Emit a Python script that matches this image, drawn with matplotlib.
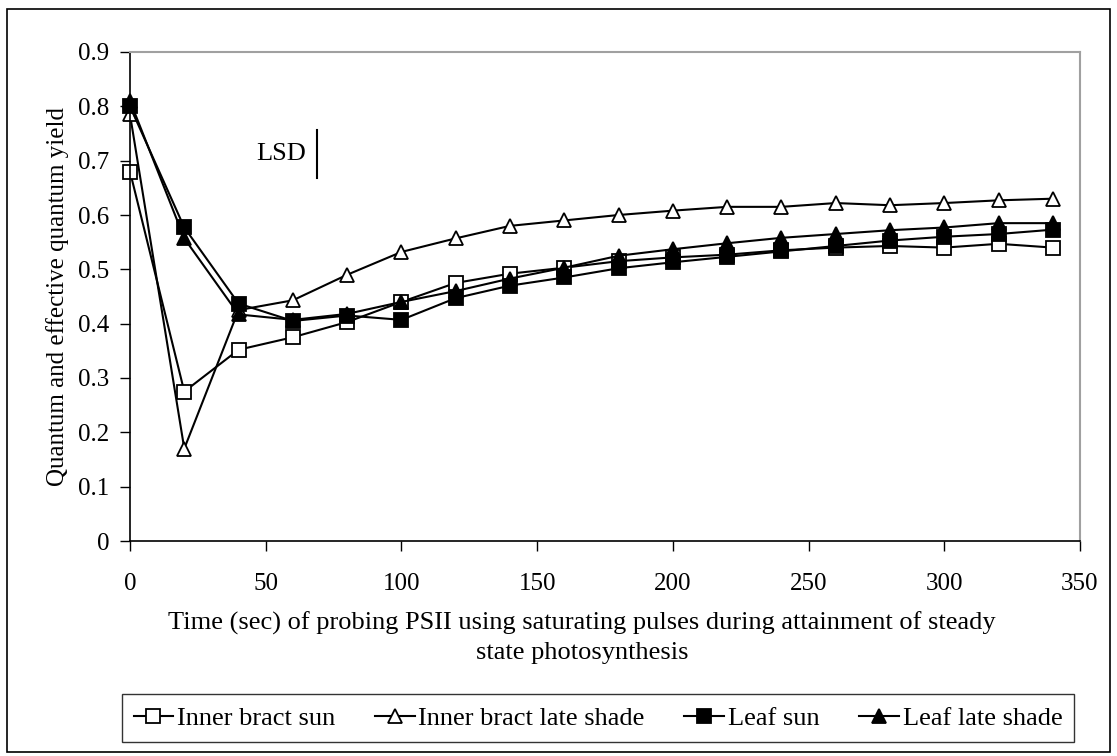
import matplotlib.pyplot as plt
from matplotlib.patches import Rectangle

plt.rcParams['font.family'] = ['Liberation Serif', 'DejaVu Serif']

time_s = [0, 20, 40, 60, 80, 100, 120, 140, 160, 180, 200, 220, 240, 260, 280, 300, 320, 340]

bract_sun = [0.680, 0.275, 0.352, 0.375, 0.403, 0.440, 0.475, 0.492, 0.503, 0.515,
             0.522, 0.527, 0.535, 0.540, 0.543, 0.540, 0.547, 0.540]
bract_late_shade = [0.785, 0.170, 0.425, 0.443, 0.490, 0.532, 0.557, 0.580, 0.590, 0.600,
                    0.608, 0.615, 0.615, 0.622, 0.618, 0.622, 0.627, 0.630]
leaf_sun = [0.800, 0.577, 0.437, 0.405, 0.415, 0.407, 0.447, 0.470, 0.485, 0.502,
            0.513, 0.523, 0.533, 0.543, 0.553, 0.560, 0.565, 0.573]
leaf_late_shade = [0.810, 0.557, 0.417, 0.407, 0.418, 0.440, 0.460, 0.483, 0.503, 0.525,
                   0.537, 0.548, 0.558, 0.565, 0.572, 0.577, 0.585, 0.585]

lsd_x = 69
lsd_y = (0.668, 0.756)

W, H = 1117, 756
fig = plt.figure(figsize=(W / 100, H / 100), dpi=100)
# plot area: left 130, right 1080, top 52, bottom 541 (pixels)
ax = fig.add_axes([130 / W, 1 - 541 / H, 950 / W, 489 / H])

series = [
    ("Inner bract sun", bract_sun, "s", "white"),
    ("Inner bract late shade", bract_late_shade, "^", "white"),
    ("Leaf sun", leaf_sun, "s", "black"),
    ("Leaf late shade", leaf_late_shade, "^", "black"),
]
for label, vals, mk, fc in series:
    ax.plot(time_s, vals, color="black", lw=1.5, marker=mk, markersize=10,
            markerfacecolor=fc, markeredgecolor="black", markeredgewidth=1.3,
            label=label, clip_on=False)

ax.plot([lsd_x, lsd_x], lsd_y, color="black", lw=1.5)
ax.text(lsd_x - 4, sum(lsd_y) / 2, "LSD", ha="right", va="center", fontsize=19)

ax.set_xlim(0, 350)
ax.set_ylim(0, 0.9)
ax.set_xticks(range(0, 351, 50))
ax.set_yticks([i / 10 for i in range(10)])
ax.set_yticklabels(["0"] + [f"{i / 10:.1f}" for i in range(1, 10)])
ax.tick_params(direction="out", length=7, width=1, labelsize=18)
ax.tick_params(axis="y", pad=8)
ax.tick_params(axis="x", pad=16)

for side in ("top", "right"):
    ax.spines[side].set_color("#a0a0a0")
    ax.spines[side].set_linewidth(1.5)
for side in ("left", "bottom"):
    ax.spines[side].set_color("black")
    ax.spines[side].set_linewidth(1.2)

ax.set_ylabel("Quantum and effective quantum yield", fontsize=18)
ax.yaxis.set_label_coords(-(130 - 69) / 950, 0.5)
ax.set_xlabel("Time (sec) of probing PSII using saturating pulses during attainment of steady\n"
              "state photosynthesis", fontsize=19, linespacing=1.4)
ax.xaxis.set_label_coords((582 - 130) / 950, -(612 - 541) / 489)

leg = fig.legend(loc="center", ncol=4, fontsize=19, frameon=True, fancybox=False,
                 edgecolor="black", handlelength=1.5, handletextpad=0.15,
                 columnspacing=1.5, borderpad=0.45,
                 bbox_to_anchor=(598 / W, 1 - 718 / H))
leg.get_frame().set_linewidth(1.0)

fig.patches.append(Rectangle((7 / W, 4 / H), 1103 / W, 743 / H, transform=fig.transFigure,
                             fill=False, edgecolor="black", lw=1.2))

fig.savefig("out.png", dpi=100)
